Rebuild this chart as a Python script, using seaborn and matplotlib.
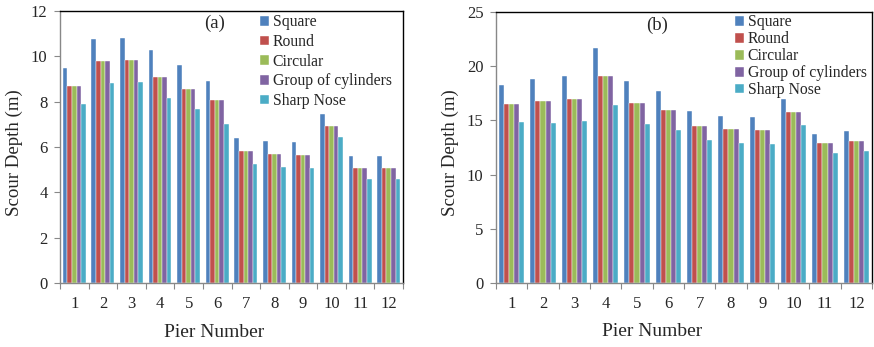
import numpy as np
import pandas as pd
import matplotlib
matplotlib.use("Agg")
import matplotlib.pyplot as plt
import seaborn as sns
from matplotlib.ticker import FixedLocator

# ---------------- data ----------------
piers = [str(i) for i in range(1, 13)]
shapes = ["Square", "Round", "Circular", "Group of cylinders", "Sharp Nose"]

square_a   = [9.47, 10.76, 10.82, 10.26, 9.63, 8.90, 6.40, 6.25, 6.21, 7.44, 5.59, 5.59]
round_a    = [8.69, 9.78, 9.84, 9.09, 8.57, 8.09, 5.81, 5.69, 5.65, 6.93, 5.09, 5.09]
circular_a = [8.69, 9.78, 9.84, 9.09, 8.57, 8.09, 5.81, 5.69, 5.65, 6.93, 5.09, 5.09]
group_a    = [8.69, 9.78, 9.84, 9.09, 8.57, 8.09, 5.81, 5.69, 5.65, 6.93, 5.09, 5.09]
sharp_a    = [7.90, 8.81, 8.85, 8.15, 7.66, 7.01, 5.24, 5.13, 5.07, 6.43, 4.57, 4.57]

square_b   = [18.26, 18.78, 19.12, 21.71, 18.63, 17.73, 15.88, 15.42, 15.30, 16.99, 13.76, 14.03]
round_b    = [16.53, 16.78, 16.99, 19.06, 16.62, 15.95, 14.50, 14.19, 14.10, 15.79, 12.89, 13.08]
circular_b = [16.53, 16.78, 16.99, 19.06, 16.62, 15.95, 14.50, 14.19, 14.10, 15.79, 12.89, 13.08]
group_b    = [16.53, 16.78, 16.99, 19.06, 16.62, 15.95, 14.50, 14.19, 14.10, 15.79, 12.89, 13.08]
sharp_b    = [14.84, 14.74, 14.93, 16.41, 14.65, 14.15, 13.17, 12.92, 12.86, 14.59, 12.03, 12.18]

yticks_a = [0, 2, 4, 6, 8, 10, 12]
yticks_b = [0, 5, 10, 15, 20, 25]

colors = ["#4F81BD", "#C0504D", "#9BBB59", "#8064A2", "#4BACC6"]


def long_df(series):
    rows = []
    for shape, vals in zip(shapes, series):
        for p, v in zip(piers, vals):
            rows.append({"Pier": p, "Shape": shape, "Depth": v})
    return pd.DataFrame(rows)


df_a = long_df([square_a, round_a, circular_a, group_a, sharp_a])
df_b = long_df([square_b, round_b, circular_b, group_b, sharp_b])

sns.set_style("white")
plt.rcParams["font.family"] = ["Liberation Serif", "DejaVu Serif"]

fig = plt.figure(figsize=(8.74, 3.47), dpi=100)
W, H = 874, 347

def add_axes(l, r, t, b):
    return fig.add_axes([l / W, (H - b) / H, (r - l) / W, (b - t) / H])

ax_a = add_axes(60, 403, 11, 283)
ax_b = add_axes(496, 872, 12, 283)

panels = [
    (ax_a, df_a, yticks_a, "(a)", (0.452, 0.955), (-0.108, 0.478), (0.449, -0.149),
     (260, 14.5), 0.23),
    (ax_b, df_b, yticks_b, "(b)", (0.428, 0.952), (-0.098, 0.48), (0.415, -0.149),
     (735, 14.5), 0.06),
]

for ax, df, yt, tag, tagpos, ylc, xlc, legpos, lspace in panels:
    sns.barplot(data=df, x="Pier", y="Depth", hue="Shape", order=piers,
                hue_order=shapes, palette=colors, width=0.8, ax=ax,
                errorbar=None, edgecolor="white", linewidth=0.3, saturation=1)
    ax.set_xlim(-0.5, 11.5)
    ax.set_ylim(yt[0], yt[-1])
    ax.set_yticks(yt)
    ax.tick_params(axis="y", direction="out", length=4, width=0.8,
                   color="#888888", labelsize=12, pad=5, left=True)
    ax.tick_params(axis="x", which="major", length=0, labelsize=12, pad=9)
    ax.xaxis.set_minor_locator(FixedLocator(np.arange(-0.5, 12, 1)))
    ax.tick_params(axis="x", which="minor", direction="out", length=4,
                   width=0.8, color="#888888", bottom=True)
    for s in ["left", "bottom"]:
        ax.spines[s].set_color("#888888")
        ax.spines[s].set_linewidth(1.0)
    for s in ["top", "right"]:
        ax.spines[s].set_color("black")
        ax.spines[s].set_linewidth(1.0)
    ax.set_ylabel("Scour Depth (m)", fontsize=13.6)
    ax.set_xlabel("Pier Number", fontsize=14)
    ax.yaxis.set_label_coords(*ylc)
    ax.xaxis.set_label_coords(*xlc)
    ax.text(tagpos[0], tagpos[1], tag, transform=ax.transAxes, fontsize=13.5,
            ha="center", va="center")
    handles, labels = ax.get_legend_handles_labels()
    ax.legend(handles, labels, loc="upper left",
              bbox_to_anchor=(legpos[0] / W, (H - legpos[1]) / H),
              bbox_transform=fig.transFigure, frameon=False, fontsize=11.3,
              handlelength=0.55, handleheight=0.55, handletextpad=0.25,
              labelspacing=lspace, borderpad=0, borderaxespad=0)

fig.savefig("out.png", dpi=100)
